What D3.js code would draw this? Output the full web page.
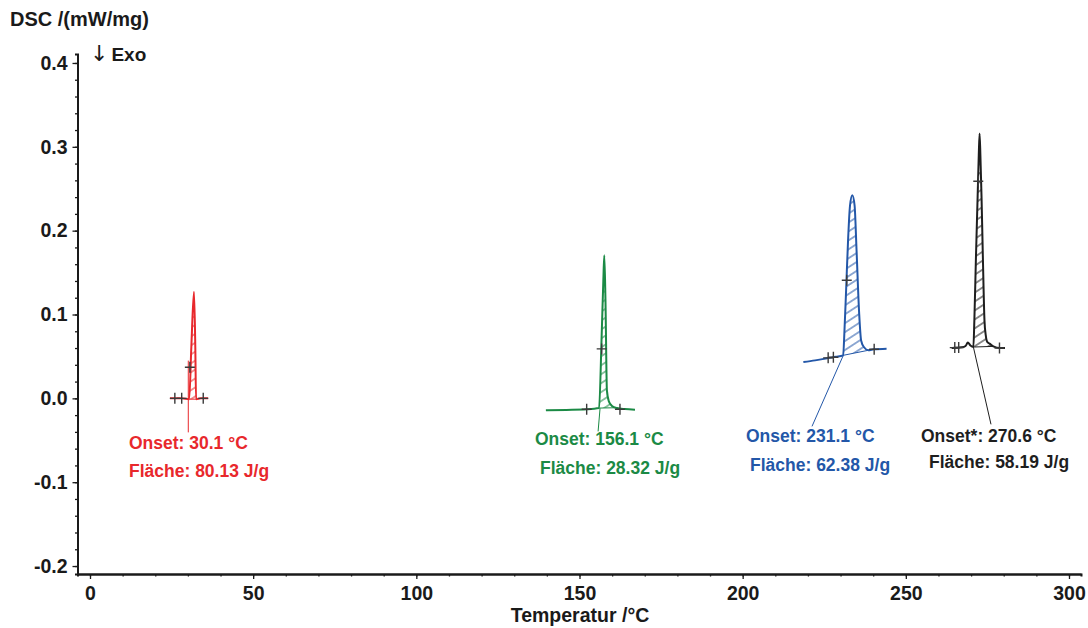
<!DOCTYPE html>
<html><head><meta charset="utf-8">
<script src="https://cdn.jsdelivr.net/npm/d3@7"></script>
<style>
html,body{margin:0;padding:0;background:#fff;}
svg{display:block;font-family:"Liberation Sans",Arial,sans-serif;font-weight:bold;}
</style></head>
<body><svg id="c" width="1088" height="628"></svg>
<script>
// ---------------- data (temperature °C, DSC mW/mg) ----------------
const redCurve = [[24.5,0.0],[28.0,0.0],[30.4,-0.001],[31.05,0.061],[31.87,0.127],[32.27,0.061],[32.5,-0.001],[34.0,0.0],[36.2,0.0]];
const greenCurve = [[139.7,-0.0143],[146.0,-0.0138],[152.2,-0.0131],[156.0,-0.0116],[156.75,0.069],[157.3,0.14],[157.6,0.1706],[157.96,0.117],[158.4,0.0095],[159.0,-0.0036],[159.95,-0.009],[161.5,-0.0116],[163.9,-0.0128],[167.0,-0.0135]];
const blueCurve = [[218.6,0.0433],[222.2,0.0453],[226.2,0.048],[228.6,0.0495],[230.8,0.0513],[231.2,0.081],[231.7,0.129],[232.3,0.1885],[232.9,0.230],[233.6,0.2422],[234.3,0.230],[234.9,0.1766],[235.7,0.1014],[236.3,0.069],[237.2,0.0609],[238.5,0.0573],[240.2,0.0585],[244.1,0.0593]];
const blackCurve = [[264.05,0.060],[267.2,0.0609],[268.3,0.0625],[269.0,0.0665],[269.8,0.0630],[270.7,0.0612],[271.0,0.093],[271.5,0.17],[272.0,0.24],[272.35,0.29],[272.6,0.316],[272.85,0.29],[273.2,0.24],[273.6,0.17],[274.1,0.093],[274.5,0.075],[275.0,0.067],[275.8,0.065],[276.8,0.062],[278.9,0.060],[280.4,0.060]];

// integration baselines [start, end]
const redBase = [[30.4,-0.001],[32.5,-0.001]];
const greenBase = [[156.0,-0.0116],[161.0,-0.0112]];
const blueBase = [[230.8,0.0513],[240.0,0.0585]];
const blackBase = [[270.7,0.0612],[276.8,0.062]];

// onset tangent / leader lines
const redOnsetLine = [[30.12,0.045],[30.12,-0.0406]];
const greenOnsetLine = [[156.3,-0.0119],[155.7,-0.0394]];
const blueOnsetLine = [[230.84,0.0513],[221.25,-0.0334]];
const blackOnsetLine = [[270.7,0.0612],[276.1,-0.031]];

// evaluation markers (+)
const redMarks = [[26.0,0],[28.1,0],[34.7,0],[30.6,0.037]];
const greenMarks = [[152.2,-0.013],[162.4,-0.013],[156.8,0.059]];
const blueMarks = [[226.2,0.0483],[227.8,0.049],[240.3,0.0585],[231.9,0.1408]];
const blackMarks = [[265.0,0.0605],[266.2,0.0607],[278.7,0.060],[272.2,0.259]];

// annotation texts
const redLabels = ["Onset: 30.1 °C","Fläche: 80.13 J/g"];
const greenLabels = ["Onset: 156.1 °C","Fläche: 28.32 J/g"];
const blueLabels = ["Onset: 231.1 °C","Fläche: 62.38 J/g"];
const blackLabels = ["Onset*: 270.6 °C","Fläche: 58.19 J/g"];

// axes
const xTicks = [0,50,100,150,200,250,300];
const yTicks = [-0.2,-0.1,0.0,0.1,0.2,0.3,0.4];
const yTickLabels = ["-0.2","-0.1","0.0","0.1","0.2","0.3","0.4"];
const xMinorStep = 10, yMinorStep = 0.02;
const xTitle = "Temperatur /°C";
const yTitle = "DSC /(mW/mg)";
const exoLabel = "Exo";

// ---------------- layout ----------------
const series = [
  {curve:redCurve, base:redBase, onset:redOnsetLine, marks:redMarks, labels:redLabels, color:"#e8282c", lx:129, ly:449, lx2:129, ly2:477},
  {curve:greenCurve, base:greenBase, onset:greenOnsetLine, marks:greenMarks, labels:greenLabels, color:"#1b8a45", lx:535, ly:445, lx2:540, ly2:474},
  {curve:blueCurve, base:blueBase, onset:blueOnsetLine, marks:blueMarks, labels:blueLabels, color:"#2357a8", lx:746, ly:442, lx2:750, ly2:471},
  {curve:blackCurve, base:blackBase, onset:blackOnsetLine, marks:blackMarks, labels:blackLabels, color:"#1e1e1e", lx:921, ly:442, lx2:929, ly2:468}
];

const svg = d3.select("#c");
const x = d3.scaleLinear().domain([-3.83, 303.68]).range([77.5, 1081]);
const y = d3.scaleLinear().domain([-0.2095, 0.4107]).range([574, 54]);

// hatch patterns
const defs = svg.append("defs");
series.forEach((s,i)=>{
  const p = defs.append("pattern").attr("id","h"+i).attr("patternUnits","userSpaceOnUse")
    .attr("width",20).attr("height",7.5).attr("patternTransform","rotate(-33)");
  p.append("line").attr("x1",0).attr("x2",20).attr("y1",3.75).attr("y2",3.75)
    .attr("stroke",s.color).attr("stroke-width",1);
});

// axes
const fmt = d => yTickLabels[yTicks.findIndex(t=>Math.abs(t-d)<1e-9)];
const yMinor = d3.range(-0.2, 0.4001, yMinorStep);
const xMinor = d3.range(0, 300.1, xMinorStep);

const gy = svg.append("g").attr("transform",`translate(${x.range()[0]},0)`);
gy.call(d3.axisLeft(y).tickValues(yMinor).tickSize(2.5).tickFormat(""));
gy.append("g").call(d3.axisLeft(y).tickValues(yTicks).tickSize(5).tickSizeOuter(0).tickPadding(5).tickFormat(fmt));
gy.selectAll("text").attr("font-size",19.5).attr("fill","#1a1a1a").attr("font-family","Liberation Sans, Arial").attr("font-weight","bold");

const gx = svg.append("g").attr("transform",`translate(0,${y.range()[0]})`);
gx.call(d3.axisBottom(x).tickValues(xMinor).tickSize(2.5).tickFormat(""));
gx.append("g").call(d3.axisBottom(x).tickValues(xTicks).tickSize(5).tickSizeOuter(0).tickPadding(7).tickFormat(d3.format("d")));
gx.selectAll("text").attr("font-size",19.5).attr("fill","#1a1a1a").attr("font-family","Liberation Sans, Arial").attr("font-weight","bold");

svg.selectAll(".domain").attr("stroke","#1a1a1a").attr("stroke-width",2);
svg.selectAll(".tick line").attr("stroke","#1a1a1a").attr("stroke-width",1.3);

// titles
svg.append("text").attr("x",10).attr("y",26).attr("font-size",20).attr("fill","#1a1a1a").text(yTitle);
svg.append("text").attr("x",580).attr("y",622).attr("text-anchor","middle").attr("font-size",19.5).attr("fill","#1a1a1a").text(xTitle);
const exo = svg.append("text").attr("x",90).attr("y",61).attr("font-size",19).attr("fill","#1a1a1a");
exo.append("tspan").attr("font-weight","normal").attr("font-family","DejaVu Sans").attr("font-size",22).text("↓");
exo.append("tspan").attr("dx",3).text(exoLabel);

// curves
const line = d3.line().x(d=>x(d[0])).y(d=>y(d[1])).curve(d3.curveMonotoneX);
const straight = d3.line().x(d=>x(d[0])).y(d=>y(d[1]));

function interp(curve, t){
  for(let i=0;i<curve.length-1;i++){
    const a=curve[i], b=curve[i+1];
    if(t>=a[0] && t<=b[0]){ const f=(t-a[0])/(b[0]-a[0]); return a[1]+f*(b[1]-a[1]); }
  }
  return curve[curve.length-1][1];
}

series.forEach((s,i)=>{
  const g = svg.append("g");
  const [b0,b1] = s.base;
  const basev = t => b0[1] + (t-b0[0])/(b1[0]-b0[0])*(b1[1]-b0[1]);
  const pts = [[b0[0], interp(s.curve,b0[0])]]
    .concat(s.curve.filter(d=>d[0]>b0[0] && d[0]<b1[0]))
    .concat([[b1[0], interp(s.curve,b1[0])]]);
  const area = d3.area().x(d=>x(d[0])).y0(d=>y(basev(d[0]))).y1(d=>y(d[1])).curve(d3.curveMonotoneX);
  g.append("path").attr("d",area(pts)).attr("fill",`url(#h${i})`).attr("stroke","none");
  g.append("path").attr("d",straight(s.base)).attr("stroke",s.color).attr("stroke-width",1).attr("fill","none");
  g.append("path").attr("d",straight(s.onset)).attr("stroke",s.color).attr("stroke-width",1).attr("fill","none");
  g.append("path").attr("d",line(s.curve)).attr("stroke",s.color).attr("stroke-width",2).attr("fill","none").attr("stroke-linejoin","round");
  s.marks.forEach(m=>{
    const cx=x(m[0]), cy=y(m[1]);
    g.append("path").attr("d",`M${cx-5},${cy}H${cx+5}M${cx},${cy-5.5}V${cy+5.5}`).attr("stroke","#3a3a3a").attr("stroke-width",1.4);
  });
  g.append("text").attr("x",s.lx).attr("y",s.ly).attr("font-size",17.5).attr("fill",s.color).text(s.labels[0]);
  g.append("text").attr("x",s.lx2).attr("y",s.ly2).attr("font-size",17.5).attr("fill",s.color).text(s.labels[1]);
});
</script></body></html>
